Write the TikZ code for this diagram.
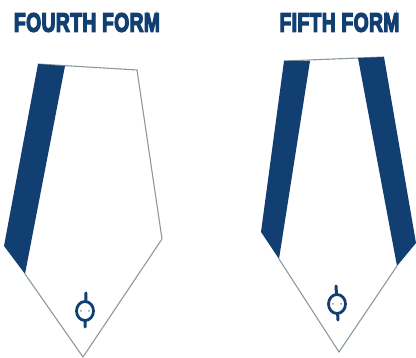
\documentclass[tikz,border=0pt]{standalone}
\usepackage{fontspec}
\setmainfont{Liberation Sans}
\newfontface\heavyface{Liberation Sans Bold}[FakeBold=5.5,LetterSpace=2]
\definecolor{navy}{HTML}{123F72}
\definecolor{edgegray}{HTML}{8C9A9C}
\tikzset{
  band/.style={fill=navy,draw=none},
  outline/.style={draw=edgegray,line width=1.1pt,line join=miter},
  title/.style={inner sep=0pt,text=navy,anchor=center},
  loopring/.style={draw=navy,line width=2.8pt,fill=white},
  stem/.style={draw=navy,line width=3pt,line cap=round},
  dot/.style={fill=edgegray,draw=none}
}
\begin{document}
\begin{tikzpicture}[x=1pt,y=-1pt]
\useasboundingbox (0,0) rectangle (416,358);
\fill[white] (0,0) rectangle (416,358);
% titles
\node[title] (t4) at (87,22.5) {\resizebox{146pt}{18.5pt}{\heavyface FOURTH FORM}};
\node[title] (t5) at (339.5,22.5) {\resizebox{120pt}{18.5pt}{\heavyface FIFTH FORM}};
% fourth form
\draw[outline] (38,64) -- (137,70) -- (162,239) -- (83,357) -- (25,274);
\fill[band] (38,64) -- (65,66) -- (25,274) -- (4,246) -- cycle;
\draw[stem] (86,293) -- (85,327);
\draw[loopring] (85,311) ellipse (8.5 and 9.5);
\fill[dot] (81,311) circle (1);
\fill[dot] (89,311) circle (1);
% fifth form
\draw[outline] (284,61) -- (384,57);
\draw[outline] (279,259) -- (339,352) -- (397,266);
\fill[band] (284,61) -- (310,61) -- (279,259) -- (261,232) -- cycle;
\fill[band] (358,58) -- (384,57) -- (416,243) -- (397,266) -- cycle;
\draw[stem] (336,286) -- (338,320);
\draw[loopring] (337,304) ellipse (8.5 and 9.5);
\fill[dot] (333,304) circle (1);
\fill[dot] (341,304) circle (1);
\end{tikzpicture}
\end{document}
